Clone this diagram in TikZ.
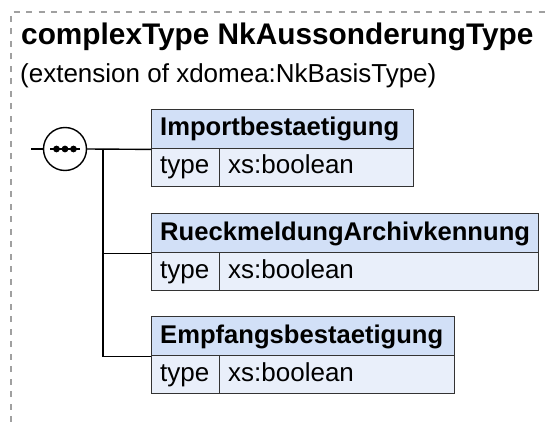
\documentclass[tikz,border=0pt]{standalone}
\usepackage{fontspec}
\setmainfont{Liberation Sans}
\definecolor{hdrfill}{HTML}{D2E0F7}
\definecolor{rowfill}{HTML}{E9EFFA}
\definecolor{boxborder}{HTML}{333333}
\definecolor{dashgray}{HTML}{A0A0A0}
\tikzset{
  hdr/.style={draw=boxborder, fill=hdrfill, line width=1.4pt, minimum height=39pt, anchor=north west, inner sep=0pt},
  cell/.style={draw=boxborder, fill=rowfill, line width=1.4pt, minimum height=38pt, anchor=north west, inner sep=0pt},
  lbl/.style={anchor=base west, inner sep=0pt, font=\fontsize{25.6}{30}\selectfont\bfseries},
  txt/.style={anchor=base west, inner sep=0pt, font=\fontsize{26}{30}\selectfont},
  conn/.style={line width=1.4pt, black},
  dashborder/.style={dashgray, line width=1.2pt, dash pattern=on 6pt off 6.5pt},
  seqcircle/.style={circle, draw=black, fill=white, line width=1.4pt, minimum size=43pt, inner sep=0pt}
}
\begin{document}
\begin{tikzpicture}[x=1pt,y=-1pt]
\useasboundingbox (0,0) rectangle (548,422);
% dashed border
\draw[dashborder] (11,422) -- (11,12) -- (548,12);
% titles
\node[anchor=base west, inner sep=0pt, font=\fontsize{29.8}{35}\selectfont\bfseries] (title) at (21,45) {complexType NkAussonderungType};
\node[txt] (subtitle) at (20,83) {(extension of xdomea:NkBasisType)};
% sequence compositor
\coordinate (start) at (31,149);
\node[seqcircle] (seq) at (65,149) {};
\draw[conn] (start) -- (seq.west);
\draw[conn] ([xshift=-15pt]seq.center) -- ([xshift=15pt]seq.center);
\foreach \dx in {-8.5,0,8.5} \fill ([xshift=\dx pt]seq.center) circle (3.4pt);
\coordinate (fork) at (103,149);
% boxes
\node[hdr, minimum width=262pt] (h1) at (151,109) {};
\node[cell, minimum width=68pt] (t1) at (151,148) {};
\node[cell, minimum width=194pt] (v1) at (219,148) {};
\node[hdr, minimum width=387pt] (h2) at (151,213) {};
\node[cell, minimum width=68pt] (t2) at (151,252) {};
\node[cell, minimum width=319pt] (v2) at (219,252) {};
\node[hdr, minimum width=303pt] (h3) at (151,316) {};
\node[cell, minimum width=68pt] (t3) at (151,355) {};
\node[cell, minimum width=235pt] (v3) at (219,355) {};
% connectors
\draw[conn] (seq.east) -- (h1.south west);
\draw[conn] (fork) |- (h2.south west);
\draw[conn] (fork) |- (h3.south west);
% texts
\node[lbl] (l1) at (160,136) {Importbestaetigung};
\node[txt] (ty1) at (160,174) {type};
\node[txt] (b1) at (228,174) {xs:boolean};
\node[lbl] (l2) at (160,240) {RueckmeldungArchivkennung};
\node[txt] (ty2) at (160,278) {type};
\node[txt] (b2) at (228,278) {xs:boolean};
\node[lbl] (l3) at (160,343) {Empfangsbestaetigung};
\node[txt] (ty3) at (160,381) {type};
\node[txt] (b3) at (228,381) {xs:boolean};
\end{tikzpicture}
\end{document}
